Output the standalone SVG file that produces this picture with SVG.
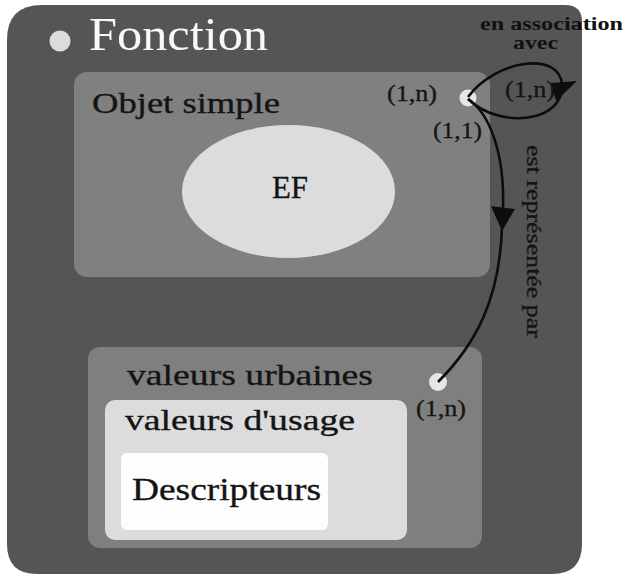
<svg xmlns="http://www.w3.org/2000/svg" width="625" height="574" viewBox="0 0 625 574">
  <style>
    .lbl { font-family: "Liberation Serif", "Times New Roman", serif; fill: #141414; stroke: #141414; stroke-width: 0.35; }
    .card { font-family: "Liberation Serif", "Times New Roman", serif; fill: #141414; stroke: #141414; stroke-width: 0.3; font-size: 23px; }
    .role { font-family: "Liberation Serif", "Times New Roman", serif; fill: #111; font-weight: bold; font-size: 19px; }
    .port { fill: #e6e6e6; }
    .edge { fill: none; stroke: #0d0d0d; stroke-width: 2.6; }
    .head { fill: #0d0d0d; }
  </style>

  <rect width="625" height="574" fill="#ffffff"/>

  <!-- outer container: Fonction -->
  <g id="fonction">
    <path d="M42,5 H565 Q582,5 582,22 V544 Q582,574 552,574 H37 Q7,574 7,544 V40 Q7,5 42,5 Z" fill="#555555"/>
    <circle cx="60" cy="41" r="10.5" fill="#dcdcdc"/>
    <text x="89" y="50" font-family="'Liberation Serif', 'Times New Roman', serif" font-size="47" fill="#f8f8f8" textLength="179" lengthAdjust="spacingAndGlyphs">Fonction</text>
  </g>

  <!-- Objet simple with its entity EF -->
  <g id="objet-simple">
    <rect x="74" y="72" width="416" height="205" rx="13" fill="#808080"/>
    <text class="lbl" x="92" y="113" font-size="30" textLength="188" lengthAdjust="spacingAndGlyphs">Objet simple</text>
    <circle class="port" cx="468" cy="98" r="8.5"/>
  </g>
  <g id="ef">
    <ellipse cx="288.5" cy="191.5" rx="106.5" ry="66.5" fill="#dcdcdc"/>
    <text class="lbl" x="290" y="198" font-size="31" text-anchor="middle" textLength="36" lengthAdjust="spacingAndGlyphs">EF</text>
  </g>

  <!-- valeurs urbaines / valeurs d'usage / Descripteurs -->
  <g id="valeurs-urbaines">
    <rect x="88" y="347" width="394" height="201" rx="12" fill="#7f7f7f"/>
    <text class="lbl" x="127" y="385" font-size="30" textLength="246" lengthAdjust="spacingAndGlyphs">valeurs urbaines</text>
    <circle class="port" cx="438" cy="382" r="9"/>
  </g>
  <g id="valeurs-usage">
    <rect x="105" y="400" width="302" height="140" rx="10" fill="#dcdcdc"/>
    <text class="lbl" x="125" y="430" font-size="30" textLength="230" lengthAdjust="spacingAndGlyphs">valeurs d'usage</text>
  </g>
  <g id="descripteurs">
    <rect x="121" y="453" width="207" height="77" rx="6" fill="#fdfdfd"/>
    <text class="lbl" x="132" y="500" font-size="31" textLength="189" lengthAdjust="spacingAndGlyphs">Descripteurs</text>
  </g>

  <!-- connectors -->
  <g id="connectors">
    <!-- self association on Objet simple -->
    <path class="edge" d="M468,97 C495,60 560,50 562,85 C564,122 500,130 468,99"/>
    <polygon class="head" points="551,83 577,81 556,101"/>
    <!-- Objet simple est représentée par valeurs urbaines -->
    <path class="edge" d="M468,99 C488,112 505,150 503,210"/>
    <polygon class="head" points="491,206 515,209 502,231"/>
    <path class="edge" d="M502,226 C500,300 475,345 438,382"/>

    <text class="card" x="387" y="101" textLength="50" lengthAdjust="spacingAndGlyphs">(1,n)</text>
    <text class="card" x="433" y="138" textLength="49" lengthAdjust="spacingAndGlyphs">(1,1)</text>
    <text class="card" x="505" y="97" textLength="50" lengthAdjust="spacingAndGlyphs">(1,n)</text>
    <text class="card" x="416" y="416" textLength="50" lengthAdjust="spacingAndGlyphs">(1,n)</text>

    <text class="role" x="480" y="30" textLength="143" lengthAdjust="spacingAndGlyphs">en association</text>
    <text class="role" x="513" y="49" textLength="45" lengthAdjust="spacingAndGlyphs">avec</text>
    <text class="lbl" font-size="20" transform="translate(527,145) rotate(90)" textLength="193" lengthAdjust="spacingAndGlyphs">est représentée par</text>
  </g>
</svg>
